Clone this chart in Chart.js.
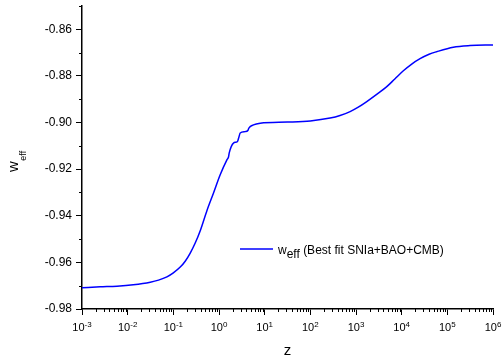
<!DOCTYPE html>
<html>
<head>
<meta charset="utf-8">
<script src="https://cdn.jsdelivr.net/npm/chart.js@4/dist/chart.umd.min.js"></script>
<style>
  body { margin: 0; background: #fff; }
  canvas { display: block; }
</style>
</head>
<body>
<canvas id="chart1" width="502" height="360"></canvas>
<script>
// redshift z and effective equation of state along the best-fit curve
const zValues = [
    0.001, 0.00251, 0.00583, 0.01327, 0.03126, 0.0474, 0.0724, 0.1, 0.1416, 0.182,
    0.2344, 0.3013, 0.3882, 0.5433, 0.7586, 1.062, 1.489, 1.614, 1.671, 2.075,
    2.541, 2.723, 2.911, 3.741, 4.285, 4.508, 5.689, 7.98, 31.6, 100,
    271, 447, 743, 1122, 1722, 3090, 4721, 7079, 10890, 16600,
    25290, 39810, 58610, 135200, 314100, 1000000
];
const wEff = [
    -0.9709, -0.9705, -0.9702, -0.9696, -0.9685, -0.9676, -0.9662, -0.9645, -0.9620, -0.9595,
    -0.9560, -0.9517, -0.9464, -0.9378, -0.9302, -0.9224, -0.9160, -0.9148, -0.9131, -0.9088,
    -0.9081, -0.9063, -0.9045, -0.9039, -0.9034, -0.9024, -0.9010, -0.9003, -0.8998, -0.8993,
    -0.8981, -0.8970, -0.8953, -0.8934, -0.8910, -0.8874, -0.8846, -0.8813, -0.8778, -0.8749,
    -0.8726, -0.8707, -0.8696, -0.8677, -0.8670, -0.8667
];

// axis ticks
const xTickValues = [1e-3, 1e-2, 1e-1, 1e0, 1e1, 1e2, 1e3, 1e4, 1e5, 1e6];
const xTickExponents = ['-3', '-2', '-1', '0', '1', '2', '3', '4', '5', '6'];
const yTickValues = [-0.98, -0.96, -0.94, -0.92, -0.90, -0.88, -0.86];

const FONT = '"Liberation Sans", Arial, sans-serif';

// minor ticks, tick labels with exponents, axis titles and the legend
const decorations = {
    id: 'decorations',
    afterDraw(chart) {
        const ctx = chart.ctx;
        const xs = chart.scales.x;
        const ys = chart.scales.y;
        const area = chart.chartArea;

        ctx.save();
        ctx.strokeStyle = '#000';
        ctx.lineWidth = 1;
        ctx.beginPath();
        // y minor ticks halfway between labelled ones, up to the top of the axis
        for (let v = -0.97; v <= -0.849; v += 0.02) {
            const py = Math.round(ys.getPixelForValue(v)) + 0.5;
            ctx.moveTo(area.left - 3, py);
            ctx.lineTo(area.left, py);
        }
        // x minor ticks 2..9 within each decade
        for (let i = 0; i < xTickValues.length - 1; i++) {
            for (let m = 2; m <= 9; m++) {
                const px = Math.round(xs.getPixelForValue(xTickValues[i] * m)) + 0.5;
                ctx.moveTo(px, area.bottom);
                ctx.lineTo(px, area.bottom + 3);
            }
        }
        ctx.stroke();

        // x tick labels as powers of ten
        ctx.fillStyle = '#000';
        ctx.textBaseline = 'alphabetic';
        ctx.textAlign = 'left';
        xTickValues.forEach((v, i) => {
            const px = xs.getPixelForValue(v);
            ctx.font = '11px ' + FONT;
            const wBase = ctx.measureText('10').width;
            ctx.font = '8px ' + FONT;
            const wExp = ctx.measureText(xTickExponents[i]).width;
            const x0 = px - (wBase + wExp) / 2;
            ctx.font = '11px ' + FONT;
            ctx.fillText('10', x0, area.bottom + 22);
            ctx.font = '8px ' + FONT;
            ctx.fillText(xTickExponents[i], x0 + wBase, area.bottom + 18);
        });

        // x title
        ctx.font = '15px ' + FONT;
        ctx.textAlign = 'center';
        ctx.fillText('z', (area.left + area.right) / 2, 355);

        // y title, rotated, with subscript
        ctx.save();
        ctx.translate(18, 172);
        ctx.rotate(-Math.PI / 2);
        ctx.textAlign = 'left';
        ctx.font = '15px ' + FONT;
        ctx.fillText('w', 0, 0);
        const ww = ctx.measureText('w').width;
        ctx.font = '9px ' + FONT;
        ctx.fillText('eff', ww + 0.5, 8);
        ctx.restore();

        // legend
        ctx.strokeStyle = '#0000FF';
        ctx.lineWidth = 1.5;
        ctx.beginPath();
        ctx.moveTo(240, 249);
        ctx.lineTo(273, 249);
        ctx.stroke();
        ctx.textAlign = 'left';
        ctx.font = '12px ' + FONT;
        let lx = 278;
        ctx.fillText('w', lx, 253.5);
        lx += ctx.measureText('w').width;
        ctx.fillText('eff', lx, 257.5);
        lx += ctx.measureText('eff').width;
        ctx.fillText(' (Best fit SNIa+BAO+CMB)', lx, 253.5);
        ctx.restore();
    }
};

const ctx1 = document.getElementById('chart1').getContext('2d');

new Chart(ctx1, {
    type: 'line',
    data: {
        datasets: [{
            label: 'w_eff (Best fit SNIa+BAO+CMB)',
            data: zValues.map((z, i) => ({ x: z, y: wEff[i] })),
            borderColor: '#0000FF',
            borderWidth: 1.5,
            pointRadius: 0,
            cubicInterpolationMode: 'monotone',
            fill: false
        }]
    },
    options: {
        responsive: false,
        animation: false,
        layout: { padding: { left: 0, top: 6, right: 9, bottom: 0 } },
        plugins: {
            legend: { display: false },
            tooltip: { enabled: false }
        },
        scales: {
            x: {
                type: 'logarithmic',
                min: 1e-3,
                max: 1e6,
                afterBuildTicks: s => { s.ticks = xTickValues.map(v => ({ value: v })); },
                afterFit: s => { s.height = 51; s.paddingLeft = 0; s.paddingRight = 0; },
                ticks: { display: false },
                grid: {
                    drawOnChartArea: false,
                    tickLength: 6,
                    tickColor: '#000',
                    tickWidth: 1
                },
                border: { color: '#000', width: 1.5 }
            },
            y: {
                min: -0.98,
                max: -0.85,
                afterBuildTicks: s => { s.ticks = yTickValues.map(v => ({ value: v })); },
                afterFit: s => { s.width = 82; s.paddingTop = 0; s.paddingBottom = 0; },
                ticks: {
                    color: '#000',
                    padding: 4,
                    font: { family: FONT, size: 12 },
                    callback: v => v.toFixed(2)
                },
                grid: {
                    drawOnChartArea: false,
                    tickLength: 6,
                    tickColor: '#000',
                    tickWidth: 1
                },
                border: { color: '#000', width: 1.5 }
            }
        }
    },
    plugins: [decorations]
});
</script>
</body>
</html>
